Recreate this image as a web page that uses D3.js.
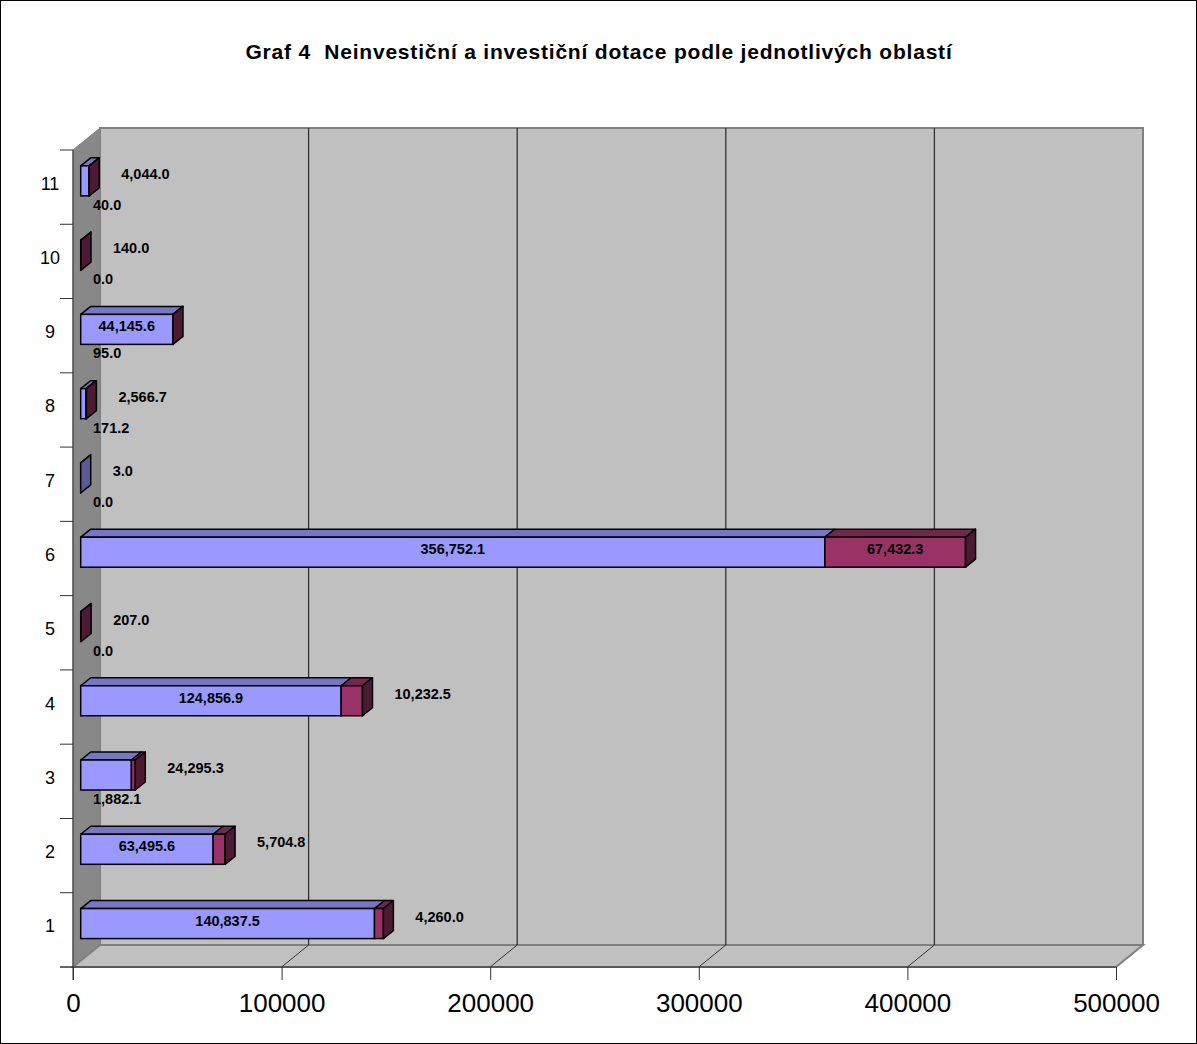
<!DOCTYPE html>
<html>
<head>
<meta charset="utf-8">
<script src="https://cdn.jsdelivr.net/npm/d3@7"></script>
<style>
  html, body { margin: 0; padding: 0; background: #fff; }
  svg { display: block; font-family: "Liberation Sans", Arial, sans-serif; }
  .title { white-space: pre; }
</style>
</head>
<body>
<svg id="chart" width="1197" height="1044"></svg>
<script>
// Dotace podle oblastí (tis. Kč): neinvestiční a investiční část
const categories = ["1", "2", "3", "4", "5", "6", "7", "8", "9", "10", "11"];
const neinvesticni = [140837.5, 63495.6, 24295.3, 124856.9, 0.0, 356752.1, 3.0, 2566.7, 44145.6, 0.0, 4044.0];
const investicni   = [4260.0, 5704.8, 1882.1, 10232.5, 207.0, 67432.3, 0.0, 171.2, 95.0, 140.0, 40.0];
const xTicks = [0, 100000, 200000, 300000, 400000, 500000];
const titleText = "Graf 4  Neinvestiční a investiční dotace podle jednotlivých oblastí";

const svg = d3.select("#chart");
const W = 1197, H = 1044;

// outer frame
svg.append("rect").attr("x", 0.5).attr("y", 0.5).attr("width", W - 1).attr("height", H - 1)
  .attr("fill", "#fff").attr("stroke", "#000").attr("stroke-width", 1);

svg.append("text").attr("class", "title").attr("x", 599).attr("y", 59).attr("text-anchor", "middle")
  .attr("font-weight", "bold").attr("font-size", 21).attr("letter-spacing", 0.8).text(titleText);

// front plane geometry and depth offset of the 3D box
const front = { left: 73, right: 1116, top: 150, bottom: 967 };
const depth = { dx: 27, dy: -22 };

const x = d3.scaleLinear().domain([0, 500000]).range([front.left, front.right]);
const y = d3.scaleBand().domain(categories).range([front.bottom, front.top]).padding(0);

const wallFill = "#C0C0C0", sideWall = "#888888", edge = "#808080";
const pt = (a) => a.map(p => p.join(",")).join(" ");

// back wall
svg.append("polygon").attr("points", pt([
  [front.left + depth.dx, front.top + depth.dy], [front.right + depth.dx, front.top + depth.dy],
  [front.right + depth.dx, front.bottom + depth.dy], [front.left + depth.dx, front.bottom + depth.dy]]))
  .attr("fill", wallFill).attr("stroke", edge).attr("stroke-width", 2);
// left side wall
svg.append("polygon").attr("points", pt([
  [front.left, front.top], [front.left + depth.dx, front.top + depth.dy],
  [front.left + depth.dx, front.bottom + depth.dy], [front.left, front.bottom]]))
  .attr("fill", sideWall).attr("stroke", edge).attr("stroke-width", 1);
// floor
svg.append("polygon").attr("points", pt([
  [front.left, front.bottom], [front.left + depth.dx, front.bottom + depth.dy],
  [front.right + depth.dx, front.bottom + depth.dy], [front.right, front.bottom]]))
  .attr("fill", wallFill).attr("stroke", edge).attr("stroke-width", 2);

// gridlines: back wall verticals and floor diagonals
const inner = xTicks.slice(1, -1);
svg.append("g").selectAll("line").data(inner).join("line")
  .attr("x1", d => x(d) + depth.dx).attr("x2", d => x(d) + depth.dx)
  .attr("y1", front.top + depth.dy).attr("y2", front.bottom + depth.dy)
  .attr("stroke", "#333").attr("stroke-width", 1.3);
svg.append("g").selectAll("line").data(inner).join("line")
  .attr("x1", d => x(d)).attr("x2", d => x(d) + depth.dx)
  .attr("y1", front.bottom).attr("y2", front.bottom + depth.dy)
  .attr("stroke", "#333").attr("stroke-width", 1);

// axes
const xAxis = d3.axisBottom(x).tickValues(xTicks).tickFormat(d3.format("d")).tickSize(13).tickPadding(14);
const gx = svg.append("g").attr("transform", `translate(0,${front.bottom})`).call(xAxis);
gx.select(".domain").attr("d", `M${front.left - 13},0H${front.right}`).attr("stroke", "#333");
gx.selectAll(".tick line").attr("stroke", "#333");
gx.selectAll("text").attr("font-size", 26).attr("font-family", "Liberation Sans, Arial, sans-serif").attr("fill", "#000");

const catTicks = d3.range(categories.length + 1).map(i => front.bottom - i * y.step());
svg.append("g").selectAll("line").data(catTicks).join("line")
  .attr("x1", front.left - 13).attr("x2", front.left).attr("y1", d => d).attr("y2", d => d)
  .attr("stroke", "#333");
svg.append("line").attr("x1", front.left).attr("x2", front.left)
  .attr("y1", front.top).attr("y2", front.bottom + 13).attr("stroke", "#333");
svg.append("g").selectAll("text").data(categories).join("text")
  .attr("x", 50).attr("y", d => y(d) + y.bandwidth() / 2 + 2.5)
  .attr("text-anchor", "middle").attr("font-size", 18).text(d => d);

// bars: each segment is a box placed partway into the depth
const barShift = { dx: 7.7, dy: -6.3 };   // front face of the bars
const barDepth = { dx: 10, dy: -8 };      // thickness of the bars
const barH = y.bandwidth() * 0.404;
const series = [
  { values: neinvesticni, front: "#9999FF", top: "#7777C6", side: "#5B5B99" },
  { values: investicni,   front: "#993366", top: "#722650", side: "#4C1A33" }
];

const rows = categories.map((c, i) => {
  let acc = 0;
  const segs = series.map((s, k) => {
    const v = s.values[i];
    const seg = { k, v, x0: x(acc) + barShift.dx, x1: x(acc + v) + barShift.dx, s };
    acc += v;
    return seg;
  });
  const cy = y(c) + y.bandwidth() / 2 + barShift.dy;
  return { c, segs, total: acc, top: cy - barH / 2, bottom: cy + barH / 2, cy };
});

const gBars = svg.append("g");
rows.forEach(r => {
  const g = gBars.append("g");
  r.segs.forEach(sg => {
    if (sg.v <= 0) return;
    g.append("polygon").attr("points", pt([
      [sg.x0, r.top], [sg.x0 + barDepth.dx, r.top + barDepth.dy],
      [sg.x1 + barDepth.dx, r.top + barDepth.dy], [sg.x1, r.top]]))
      .attr("fill", sg.s.top).attr("stroke", "#000").attr("stroke-width", 1.5).attr("stroke-linejoin", "round");
    g.append("rect").attr("x", sg.x0).attr("y", r.top)
      .attr("width", sg.x1 - sg.x0).attr("height", barH)
      .attr("fill", sg.s.front).attr("stroke", "#000").attr("stroke-width", 1.5);
  });
  const last = r.segs.filter(sg => sg.v > 0).pop();
  if (last) {
    g.append("polygon").attr("points", pt([
      [last.x1, r.top], [last.x1 + barDepth.dx, r.top + barDepth.dy],
      [last.x1 + barDepth.dx, r.bottom + barDepth.dy], [last.x1, r.bottom]]))
      .attr("fill", last.s.side).attr("stroke", "#000").attr("stroke-width", 1.5).attr("stroke-linejoin", "round");
  }
});

// value labels: inside a segment when it fits; otherwise the larger outside one
// goes right of the bar and the rest sit under it
const fmt = d3.format(",.1f");
const labelSize = 14.5;
const measure = svg.append("text").attr("font-size", labelSize).attr("font-weight", "bold").attr("opacity", 0);
const textW = t => { measure.text(t); return measure.node().getComputedTextLength(); };

const gLab = svg.append("g").attr("font-size", labelSize).attr("font-weight", "bold");
rows.forEach(r => {
  const end = r.segs[1].x1;
  const outside = [];
  r.segs.forEach(sg => {
    const t = fmt(sg.v);
    if (sg.x1 - sg.x0 > textW(t) + 8) {
      gLab.append("text").attr("x", (sg.x0 + sg.x1) / 2).attr("y", r.cy - 3).attr("dy", "0.35em")
        .attr("text-anchor", "middle").text(t);
    } else {
      outside.push({ sg, t });
    }
  });
  outside.sort((a, b) => b.sg.v - a.sg.v);
  outside.forEach((o, j) => {
    const share = r.total > 0 ? o.sg.v / r.total : 0;
    if (j === 0 && share >= 0.01) {
      gLab.append("text").attr("x", end + 32).attr("y", r.cy - 7).attr("dy", "0.35em")
        .attr("text-anchor", "start").text(o.t);
    } else {
      gLab.append("text").attr("x", front.left + 20).attr("y", r.bottom + 9).attr("dy", "0.35em")
        .attr("text-anchor", "start").text(o.t);
    }
  });
});
measure.remove();
</script>
</body>
</html>
